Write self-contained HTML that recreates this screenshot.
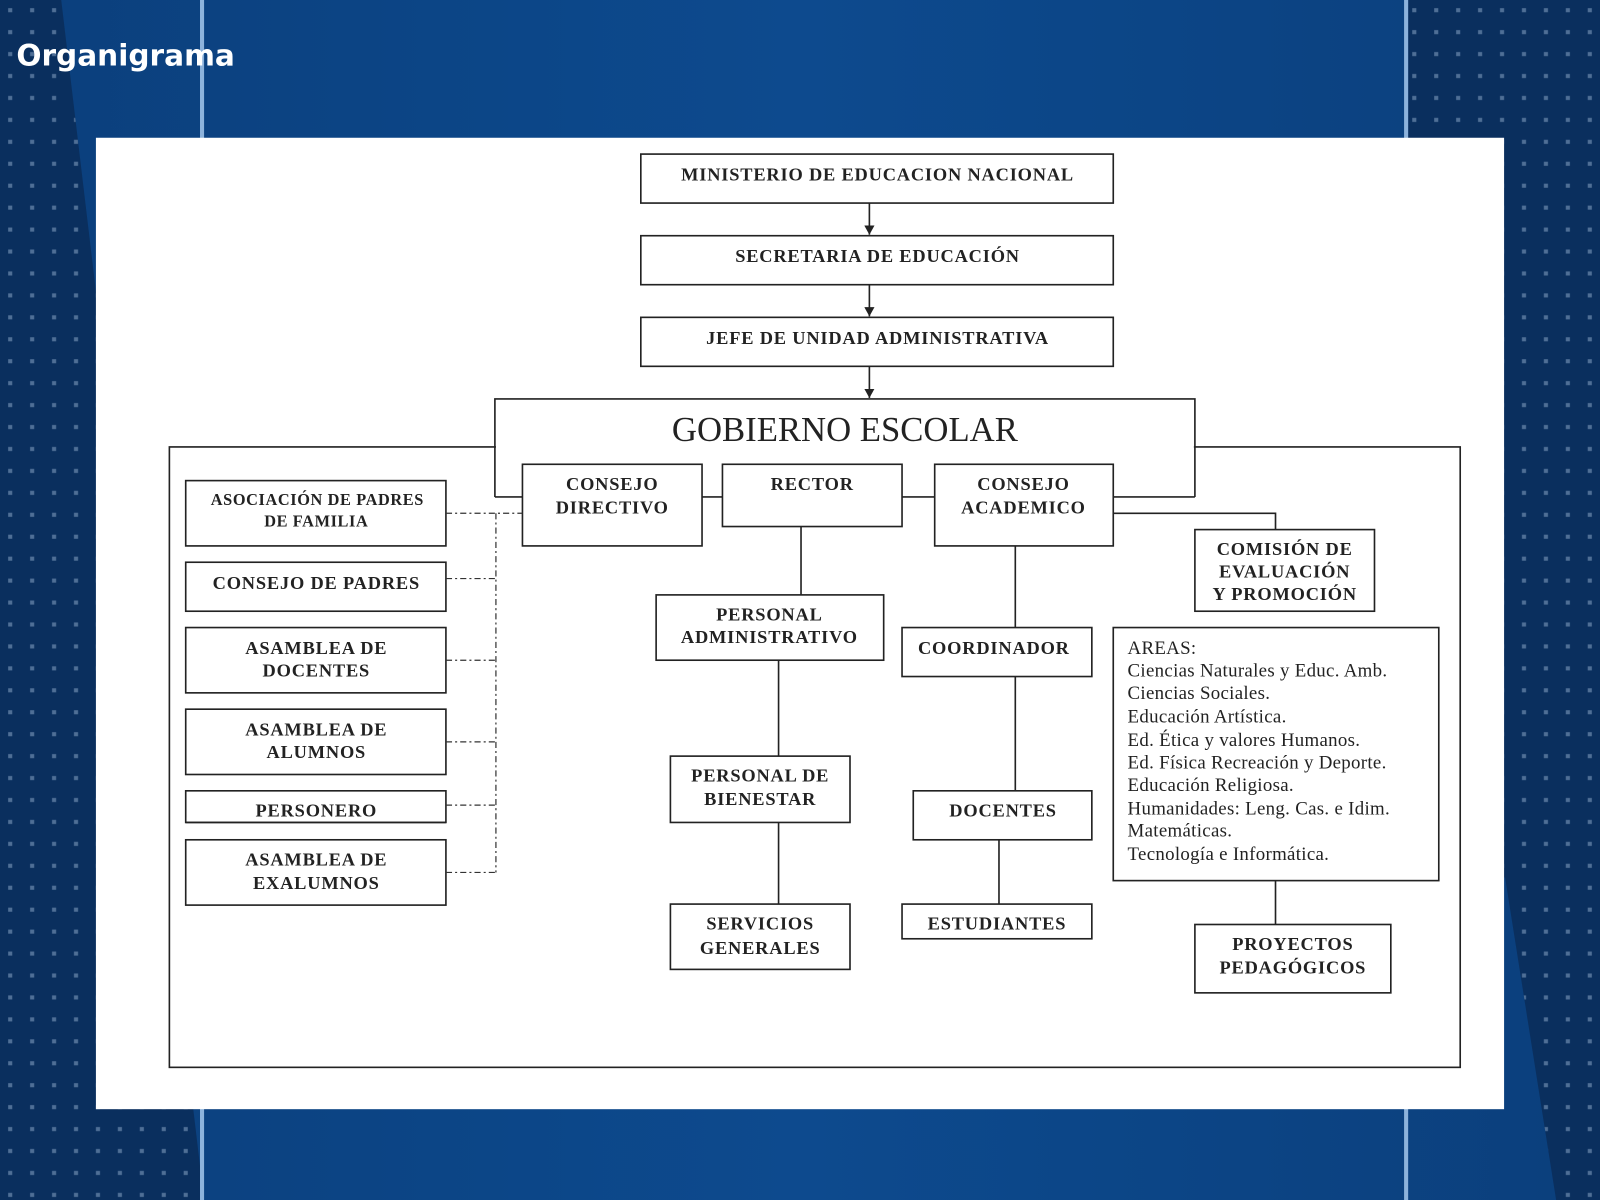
<!DOCTYPE html>
<html><head><meta charset="utf-8"><style>
html,body{margin:0;padding:0;width:1600px;height:1200px;overflow:hidden;background:#0a3a72}
svg{display:block}
.b{fill:#fff;stroke:#222;stroke-width:1.6}
.l{stroke:#222;stroke-width:1.6;fill:none}
.d{stroke:#333;stroke-width:1.2;fill:none;stroke-dasharray:6 3 2 3}
.t{font-family:"Liberation Serif",serif;font-weight:bold;font-size:18px;letter-spacing:0.8px;fill:#222;text-anchor:middle}
.a{font-family:"Liberation Serif",serif;font-size:18.5px;letter-spacing:0.3px;fill:#222}
</style></head><body>
<svg width="1600" height="1200" viewBox="0 0 1568 1176" preserveAspectRatio="none">
<defs>
<pattern id="dots" width="21.5" height="21.5" patternUnits="userSpaceOnUse"><rect x="8" y="8" width="4" height="4" fill="#4f6f96"/></pattern>
<linearGradient id="mid" x1="0" x2="1"><stop offset="0" stop-color="#0b3f7c"/><stop offset="0.5" stop-color="#0d4a8e"/><stop offset="1" stop-color="#0b3f7c"/></linearGradient>
<marker id="ar" markerWidth="10" markerHeight="10" refX="9" refY="5" orient="auto" markerUnits="userSpaceOnUse"><path d="M0,0 L9,5 L0,10 z" fill="#222"/></marker>
</defs>
<rect width="1568" height="1176" fill="url(#mid)"/>
<polygon points="0,0 60,0 200,1176 0,1176" fill="#0a2f5e"/>
<polygon points="0,0 60,0 200,1176 0,1176" fill="url(#dots)"/>
<polygon points="1380,0 1568,0 1568,1176 1525,1176 1475,860 1380,860" fill="#0a2f5e"/>
<polygon points="1380,0 1568,0 1568,1176 1525,1176 1475,860 1380,860" fill="url(#dots)"/>
<rect x="196" y="0" width="4" height="1176" fill="#8db3dc"/>
<rect x="1376" y="0" width="4" height="1176" fill="#8db3dc"/>
<text x="16" y="64" font-family="'DejaVu Sans','Liberation Sans',sans-serif" font-weight="bold" font-size="29" fill="#fff">Organigrama</text>
<rect x="94" y="135" width="1380" height="952" fill="#fff"/>

<rect class="b" x="628" y="151" width="463" height="48"/><text class="t" x="860" y="177">MINISTERIO DE EDUCACION NACIONAL</text>
<rect class="b" x="628" y="231" width="463" height="48"/><text class="t" x="860" y="257">SECRETARIA DE EDUCACIÓN</text>
<rect class="b" x="628" y="311" width="463" height="48"/><text class="t" x="860" y="337">JEFE DE UNIDAD ADMINISTRATIVA</text>
<line class="l" x1="852" y1="199" x2="852" y2="230" marker-end="url(#ar)"/>
<line class="l" x1="852" y1="279" x2="852" y2="310" marker-end="url(#ar)"/>
<line class="l" x1="852" y1="359" x2="852" y2="390" marker-end="url(#ar)"/>

<rect class="l" x="166" y="438" width="1265" height="608"/>
<rect x="486" y="392" width="684" height="94" fill="#fff"/>
<polyline class="l" points="485,487 485,391 1171,391 1171,487"/>
<text x="828" y="432" font-family="'Liberation Serif',serif" font-size="34" fill="#222" text-anchor="middle">GOBIERNO ESCOLAR</text>
<line class="l" x1="485" y1="487" x2="512" y2="487"/>
<line class="l" x1="688" y1="487" x2="708" y2="487"/>
<line class="l" x1="884" y1="487" x2="916" y2="487"/>
<line class="l" x1="1091" y1="487" x2="1171" y2="487"/>
<polyline class="l" points="1091,503 1250,503 1250,519"/>

<rect class="b" x="512" y="455" width="176" height="80"/><text class="t" x="600" y="480">CONSEJO</text><text class="t" x="600" y="503">DIRECTIVO</text>
<rect class="b" x="708" y="455" width="176" height="61"/><text class="t" x="796" y="480">RECTOR</text>
<rect class="b" x="916" y="455" width="175" height="80"/><text class="t" x="1003" y="480">CONSEJO</text><text class="t" x="1003" y="503">ACADEMICO</text>
<rect class="b" x="1171" y="519" width="176" height="80"/><text class="t" x="1259" y="544">COMISIÓN DE</text><text class="t" x="1259" y="566">EVALUACIÓN</text><text class="t" x="1259" y="588">Y PROMOCIÓN</text>

<rect class="b" x="182" y="471" width="255" height="64"/><text class="t" x="311" y="495" style="font-size:16px;letter-spacing:0.6px">ASOCIACIÓN DE PADRES</text><text class="t" x="310" y="516" style="font-size:16px;letter-spacing:0.6px">DE FAMILIA</text>
<rect class="b" x="182" y="551" width="255" height="48"/><text class="t" x="310" y="577">CONSEJO DE PADRES</text>
<rect class="b" x="182" y="615" width="255" height="64"/><text class="t" x="310" y="641">ASAMBLEA DE</text><text class="t" x="310" y="663">DOCENTES</text>
<rect class="b" x="182" y="695" width="255" height="64"/><text class="t" x="310" y="721">ASAMBLEA DE</text><text class="t" x="310" y="743">ALUMNOS</text>
<rect class="b" x="182" y="775" width="255" height="31"/><text class="t" x="310" y="800">PERSONERO</text><rect x="183" y="801" width="253" height="4" fill="#fff"/><line class="l" x1="182" y1="806" x2="437" y2="806"/>
<rect class="b" x="182" y="823" width="255" height="64"/><text class="t" x="310" y="848">ASAMBLEA DE</text><text class="t" x="310" y="871">EXALUMNOS</text>

<line class="d" x1="486" y1="503" x2="486" y2="855"/>
<line class="d" x1="437" y1="503" x2="512" y2="503"/>
<line class="d" x1="437" y1="567" x2="486" y2="567"/>
<line class="d" x1="437" y1="647" x2="486" y2="647"/>
<line class="d" x1="437" y1="727" x2="486" y2="727"/>
<line class="d" x1="437" y1="789" x2="486" y2="789"/>
<line class="d" x1="437" y1="855" x2="486" y2="855"/>

<line class="l" x1="785" y1="516" x2="785" y2="583"/>
<rect class="b" x="643" y="583" width="223" height="64"/><text class="t" x="754" y="608">PERSONAL</text><text class="t" x="754" y="630">ADMINISTRATIVO</text>
<line class="l" x1="763" y1="647" x2="763" y2="741"/>
<rect class="b" x="657" y="741" width="176" height="65"/><text class="t" x="745" y="766">PERSONAL DE</text><text class="t" x="745" y="789">BIENESTAR</text>
<line class="l" x1="763" y1="806" x2="763" y2="886"/>
<rect class="b" x="657" y="886" width="176" height="64"/><text class="t" x="745" y="911">SERVICIOS</text><text class="t" x="745" y="935">GENERALES</text>

<line class="l" x1="995" y1="535" x2="995" y2="615"/>
<rect class="b" x="884" y="615" width="186" height="48"/><text class="t" x="974" y="641">COORDINADOR</text>
<line class="l" x1="995" y1="663" x2="995" y2="775"/>
<rect class="b" x="895" y="775" width="175" height="48"/><text class="t" x="983" y="800">DOCENTES</text>
<line class="l" x1="979" y1="823" x2="979" y2="886"/>
<rect class="b" x="884" y="886" width="186" height="34"/><text class="t" x="977" y="911">ESTUDIANTES</text>

<rect class="b" x="1091" y="615" width="319" height="248"/>
<text class="a" x="1105" y="641">AREAS:</text>
<text class="a" x="1105" y="663">Ciencias Naturales y Educ. Amb.</text>
<text class="a" x="1105" y="685">Ciencias Sociales.</text>
<text class="a" x="1105" y="708">Educación Artística.</text>
<text class="a" x="1105" y="731">Ed. Ética y valores Humanos.</text>
<text class="a" x="1105" y="753">Ed. Física Recreación y Deporte.</text>
<text class="a" x="1105" y="775">Educación Religiosa.</text>
<text class="a" x="1105" y="798">Humanidades: Leng. Cas. e Idim.</text>
<text class="a" x="1105" y="820">Matemáticas.</text>
<text class="a" x="1105" y="843">Tecnología e Informática.</text>
<line class="l" x1="1250" y1="863" x2="1250" y2="906"/>
<rect class="b" x="1171" y="906" width="192" height="67"/><text class="t" x="1267" y="931">PROYECTOS</text><text class="t" x="1267" y="954">PEDAGÓGICOS</text>
</svg>
</body></html>
